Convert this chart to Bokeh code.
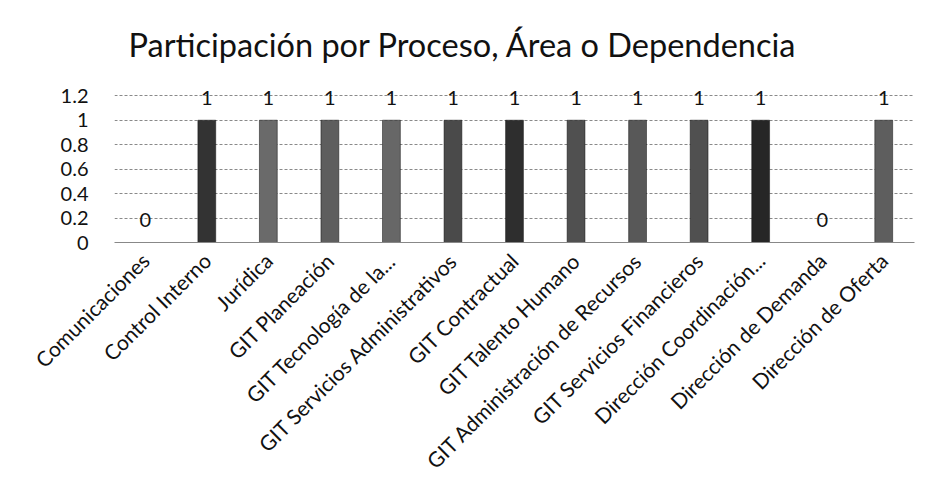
import math
from bokeh.plotting import figure
from bokeh.models import ColumnDataSource, FixedTicker, Range1d, LabelSet
from bokeh.core.properties import value
from bokeh.embed import file_html
from bokeh.resources import INLINE

categories = [
    "Comunicaciones", "Control Interno", "Jurídica", "GIT Planeación",
    "GIT Tecnología de la...", "GIT Servicios Administrativos", "GIT Contractual",
    "GIT Talento Humano", "GIT Administración de Recursos", "GIT Servicios Financieros",
    "Dirección Coordinación...", "Dirección de Demanda", "Dirección de Oferta",
]
values = [0, 1, 1, 1, 1, 1, 1, 1, 1, 1, 1, 0, 1]
value_labels = ["0", "1", "1", "1", "1", "1", "1", "1", "1", "1", "1", "0", "1"]
y_ticks = [0, 0.2, 0.4, 0.6, 0.8, 1, 1.2]
y_tick_labels = {0: "0", 0.2: "0.2", 0.4: "0.4", 0.6: "0.6", 0.8: "0.8", 1: "1", 1.2: "1.2"}

bar_colors = ["#5a5a5a", "#333333", "#6a6a6a", "#5e5e5e", "#676767", "#4a4a4a",
              "#2e2e2e", "#505050", "#585858", "#505050", "#262626", "#5a5a5a", "#5e5e5e"]

label_y = [v + 0.18 for v in values]

src = ColumnDataSource(dict(cat=categories, val=values, col=bar_colors,
                            lab=value_labels, ly=label_y))

p = figure(width=919, height=484, x_range=categories, y_range=Range1d(0, 1.3),
           output_backend="svg", toolbar_location=None,
           min_border_left=114, min_border_right=5, min_border_top=83,
           min_border_bottom=237)

p.title.text = "Participación por Proceso, Área o Dependencia"
p.title.align = "left"
p.title.offset = 14
p.title.standoff = 40
p.title.text_font = "Lato"
p.title.text_font_size = "32.5px"
p.title.text_font_style = "normal"
p.title.text_color = "#111111"

p.vbar(x="cat", top="val", width=0.29, source=src, fill_color="col", line_color="#111111",
       line_width=0.5)
labels = LabelSet(x="cat", y="ly", text="lab", source=src, text_align="center",
                  text_baseline="middle", text_font=value("Lato"), text_font_size=value("20px"),
                  text_color="#111111", level="overlay")
p.add_layout(labels)

p.yaxis.ticker = FixedTicker(ticks=y_ticks)
p.yaxis.major_label_overrides = y_tick_labels
p.yaxis.axis_line_color = None
p.yaxis.major_tick_line_color = None
p.yaxis.minor_tick_line_color = None
p.yaxis.major_label_text_font = "Lato"
p.yaxis.major_label_text_font_size = "20px"
p.yaxis.major_label_text_color = "#111111"
p.yaxis.major_label_standoff = 20

p.xaxis.axis_line_color = "#888888"
p.xaxis.major_tick_line_color = None
p.xaxis.minor_tick_line_color = None
p.xaxis.major_label_orientation = math.pi / 4
p.xaxis.major_label_text_font = "Lato"
p.xaxis.major_label_text_font_size = "21px"
p.xaxis.major_label_text_color = "#111111"
p.xaxis.major_label_standoff = 8

p.xgrid.grid_line_color = None
p.ygrid.grid_line_color = "#8a8a8a"
p.ygrid.grid_line_dash = "3 2"
p.ygrid.grid_line_width = 1

p.outline_line_color = None
p.border_fill_color = "white"
p.background_fill_color = "white"

open("out.html", "w").write(file_html(p, INLINE))
